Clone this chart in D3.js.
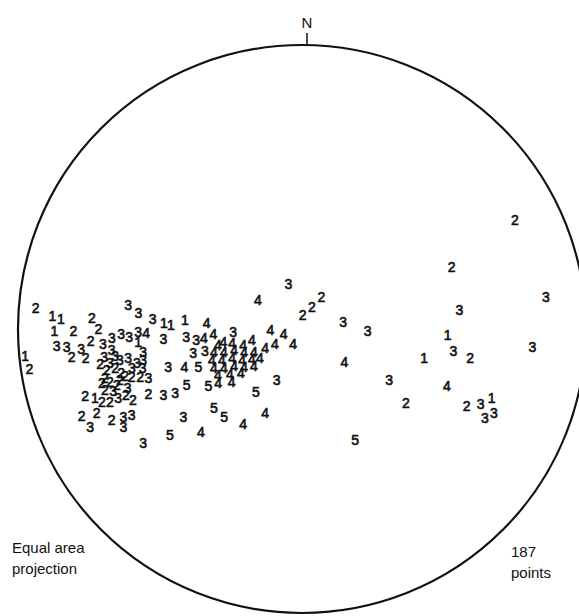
<!DOCTYPE html>
<html lang="en">
<head>
  <meta charset="UTF-8">
  <title>Equal area projection</title>
  <style>
    body { margin: 0; background: #fff; }
    svg { display: block; }
    .pt { font-family: "Liberation Sans", Arial, sans-serif; font-size: 14px; fill: #111; stroke: #111; stroke-width: 0.6px; }
    .note { font-family: "Liberation Sans", Arial, sans-serif; font-size: 15px; fill: #111; }
  </style>
</head>
<body>
<svg id="chart"></svg>
<script src="https://d3js.org/d3.v7.min.js"></script>
<script>
  // projected positions, east / north in percent of the primitive radius
  const cat1 = [[-87.9, 4.6], [-84.9, 3.4], [-87.2, -0.7], [-97.5, -9.5], [-48.6, 2.2], [-46.2, 1.4],
    [-41.2, 3.2], [-57.7, -4.6], [-72.9, -24.4], [51.3, -2.1], [43.0, -10.3], [66.8, -24.4]];

  const cat2 = [[-93.8, 7.3], [-80.5, -0.7], [-74.0, 3.8], [-71.7, -0.1], [-74.4, -4.2], [-81.1, -10.0],
    [-76.2, -10.3], [-96.0, -14.2], [-71.1, -12.3], [-68.8, -14.4], [-65.8, -13.8], [-62.3, -16.5],
    [-60.0, -17.0], [-57.0, -17.0], [-70.5, -19.1], [-67.6, -18.6], [-65.2, -19.7], [-54.1, -22.9],
    [-76.4, -23.6], [-70.5, -25.6], [-67.6, -25.6], [-59.5, -25.0], [-77.6, -30.5], [-72.3, -29.7],
    [-67.0, -32.0], [-63.7, -15.5], [-69.4, -21.5], [-69.4, -17.3], [-64.1, -18.0], [-62.0, -23.2],
    [0.2, 4.9], [3.5, 7.7], [6.8, 11.2], [75.0, 38.4], [52.7, 21.9], [59.2, -10.1], [36.6, -26.2], [58.0, -27.0]];

  const cat3 = [[-86.4, -6.0], [-82.9, -6.4], [-77.8, -7.1], [-61.2, 8.5], [-57.6, 5.7], [-52.6, 3.4],
    [-48.8, -3.5], [-40.8, -2.7], [-37.3, -4.0], [-70.1, -5.3], [-66.9, -3.2], [-63.7, -1.8],
    [-60.9, -2.8], [-57.7, -1.1], [-55.9, -8.0], [-55.9, -10.9], [-56.1, -13.8], [-69.7, -9.8],
    [-67.0, -7.4], [-64.1, -10.9], [-61.2, -10.3], [-67.6, -12.0], [-58.1, -12.0], [-54.1, -17.4],
    [-61.4, -20.9], [-66.5, -21.8], [-64.7, -24.4], [-74.6, -34.4], [-62.9, -30.9], [-60.0, -30.3],
    [-62.9, -34.4], [-65.8, -9.5], [-59.9, -13.7], [-24.2, -1.0], [-38.3, -8.6], [-34.2, -7.9],
    [-47.1, -13.3], [-48.8, -23.2], [-44.7, -22.6], [-8.9, -18.0], [-41.8, -30.9], [-55.9, -40.1],
    [-4.8, 15.9], [85.9, 11.4], [55.4, 6.7], [14.5, 2.6], [23.1, -0.7], [53.3, -7.7], [81.1, -6.2],
    [30.7, -18.0], [62.9, -26.4], [64.4, -31.4], [67.6, -29.7]];

  const cat4 = [[-54.9, -1.4], [-33.6, 2.0], [-34.5, -3.2], [-31.2, -1.8], [-11.1, -0.5], [-6.5, -1.8],
    [-3.1, -5.1], [-9.5, -5.3], [-13.0, -6.7], [-17.6, -3.9], [-20.7, -5.6], [-27.7, -4.5],
    [-41.4, -13.2], [-29.5, -19.1], [-24.8, -18.6], [-20.7, -33.5], [-13.0, -29.4], [-35.6, -36.3],
    [-15.5, 10.2], [14.9, -11.5], [51.0, -20.0],
    [-31.0, -8.1], [-27.5, -8.1], [-23.9, -7.4], [-20.4, -8.1], [-16.9, -8.1], [-31.7, -10.9],
    [-28.2, -10.9], [-24.6, -10.2], [-21.1, -10.9], [-17.6, -10.6], [-14.8, -10.2], [-31.0, -13.7],
    [-27.5, -13.7], [-23.9, -13.0], [-20.4, -13.4], [-16.9, -13.0], [-29.6, -16.2], [-25.4, -15.8],
    [-21.5, -15.5], [-29.6, -5.6], [-24.6, -4.9]];

  const cat5 = [[-36.5, -13.4], [-40.6, -19.7], [-33.0, -19.9], [-16.2, -22.0], [-31.0, -27.9],
    [-27.4, -30.9], [-46.5, -37.3], [18.7, -38.9]];

  const categories = ["1", "2", "3", "4", "5"];
  const series = [cat1, cat2, cat3, cat4, cat5];
  const totalPoints = 187;

  const W = 579, H = 616;
  const cx = 302, cy = 329, r = 284;

  const svg = d3.select('#chart').attr('width', W).attr('height', H);

  const x = d3.scaleLinear().domain([-100, 100]).range([cx - r, cx + r]);
  const y = d3.scaleLinear().domain([-100, 100]).range([cy + r, cy - r]);

  // primitive circle
  svg.append('circle')
    .attr('cx', x(0)).attr('cy', y(0))
    .attr('r', x(100) - x(0))
    .attr('fill', 'none')
    .attr('stroke', '#111')
    .attr('stroke-width', 2.2);

  // north tick
  svg.append('line')
    .attr('x1', x(0) + 5).attr('x2', x(0) + 5)
    .attr('y1', y(100) - 12).attr('y2', y(100) + 1)
    .attr('stroke', '#111').attr('stroke-width', 1.5);

  svg.append('text')
    .attr('class', 'note')
    .attr('x', x(0) + 5).attr('y', y(100) - 17)
    .attr('text-anchor', 'middle')
    .text('N');

  const flat = [];
  series.forEach((s, i) => s.forEach(d => flat.push({ e: d[0], n: d[1], c: categories[i] })));

  svg.append('g').selectAll('text')
    .data(flat)
    .enter().append('text')
    .attr('class', 'pt')
    .attr('x', d => x(d.e))
    .attr('y', d => y(d.n))
    .attr('text-anchor', 'middle')
    .attr('dy', '0.36em')
    .text(d => d.c);

  const lowerLeft = svg.append('text').attr('class', 'note').attr('x', 12).attr('y', 553);
  lowerLeft.append('tspan').attr('x', 12).text('Equal area');
  lowerLeft.append('tspan').attr('x', 12).attr('dy', 21).text('projection');

  const lowerRight = svg.append('text').attr('class', 'note').attr('x', 511).attr('y', 557);
  lowerRight.append('tspan').attr('x', 511).text(totalPoints);
  lowerRight.append('tspan').attr('x', 511).attr('dy', 21).text('points');
</script>
</body>
</html>
